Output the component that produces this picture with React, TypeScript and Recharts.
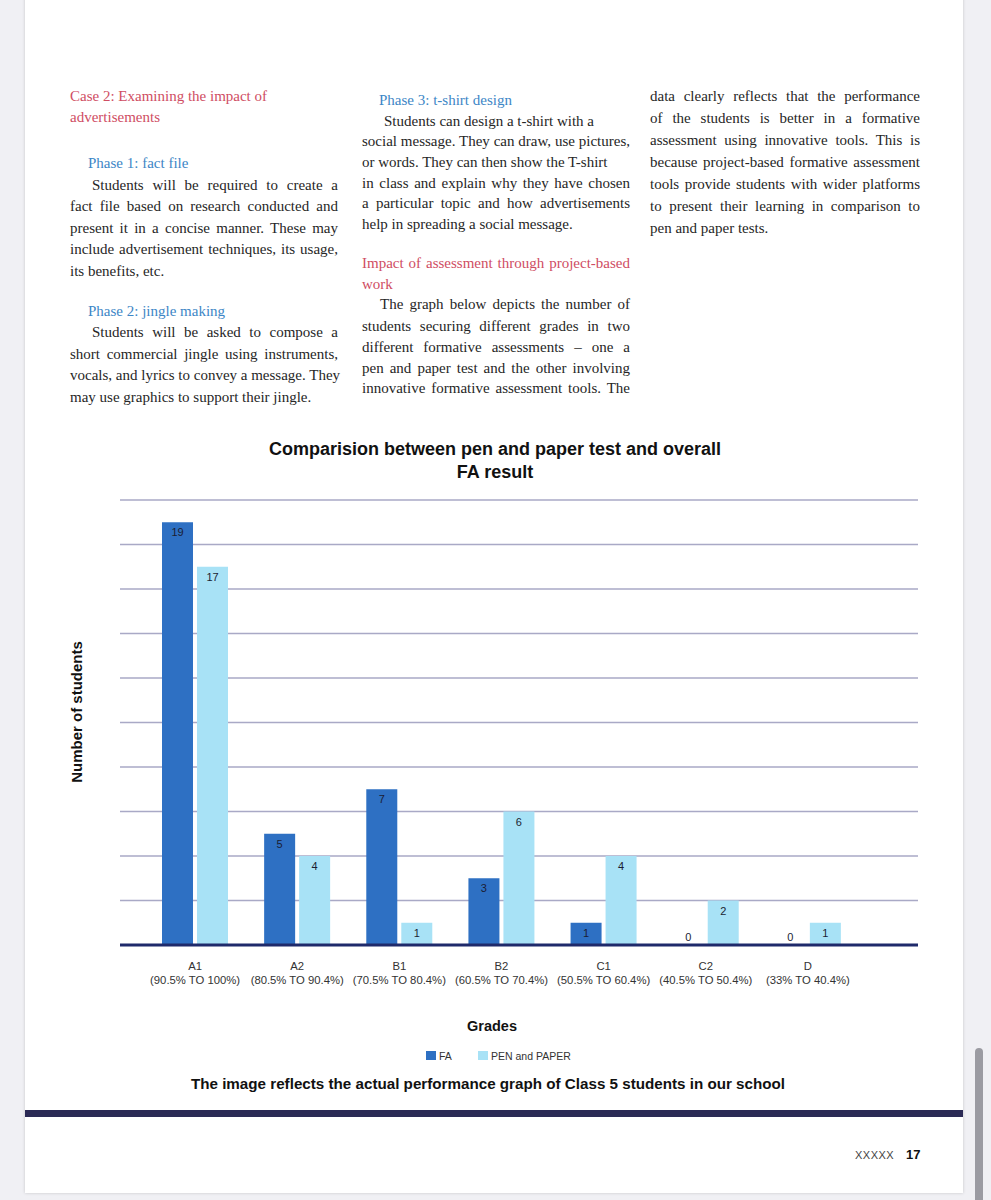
import React from "react";
import {
  BarChart,
  Bar,
  XAxis,
  YAxis,
  CartesianGrid,
  LabelList,
  Rectangle,
} from "recharts";

const grades = ["A1", "A2", "B1", "B2", "C1", "C2", "D"];
const gradeRanges = [
  "(90.5% TO 100%)",
  "(80.5% TO 90.4%)",
  "(70.5% TO 80.4%)",
  "(60.5% TO 70.4%)",
  "(50.5% TO 60.4%)",
  "(40.5% TO 50.4%)",
  "(33% TO 40.4%)",
];
const faValues = [19, 5, 7, 3, 1, 0, 0];
const penValues = [17, 4, 1, 6, 4, 2, 1];
const yTicks = [0, 2, 4, 6, 8, 10, 12, 14, 16, 18, 20];

const data = grades.map((g, i) => ({
  grade: g,
  range: gradeRanges[i],
  fa: faValues[i],
  pen: penValues[i],
}));

const SANS = "'Liberation Sans', Arial, Helvetica, sans-serif";
const SERIF = "'Liberation Serif', 'Times New Roman', serif";
const RED = "#cf4d63";
const BLUE = "#3d86c6";
const FA_COLOR = "#2e70c3";
const PEN_COLOR = "#a8e2f6";

const GradeTick = (props: any) => {
  const { x, y, payload } = props;
  const i = grades.indexOf(payload.value);
  return (
    <g>
      <text x={x} y={y + 25} textAnchor="middle" fontSize={11.3} fill="#333" fontFamily={SANS}>
        {payload.value}
      </text>
      <text x={x} y={y + 39} textAnchor="middle" fontSize={11.3} fill="#333" fontFamily={SANS}>
        {gradeRanges[i]}
      </text>
    </g>
  );
};

// zero bars get a 1px min size so their label is drawn, but no rect
const BarShape = (props: any) => {
  if (Number(props.height) < 2) return <g />;
  return <Rectangle {...props} />;
};

const renderValue = (props: any) => {
  const { x, y, width, height, value } = props;
  const v = Number(value);
  const h = Number(height) || 0;
  const cy = v === 0 || h < 2 ? Number(y) + h - 8 : Number(y) + Math.min(10, h / 2);
  return (
    <text
      x={Number(x) + Number(width) / 2}
      y={cy + 4}
      textAnchor="middle"
      fontSize={11}
      fill="#1b1d33"
      fontFamily={SANS}
    >
      {v}
    </text>
  );
};

type LineProps = {
  x: number;
  y: number;
  w: number;
  text: string;
  justify?: boolean;
  color?: string;
};

const TextLine = ({ x, y, w, text, justify, color }: LineProps) => (
  <div
    style={{
      position: "absolute",
      left: x,
      top: y - 11,
      width: w,
      height: 22,
      lineHeight: "22px",
      fontFamily: SERIF,
      fontSize: 15,
      color: color || "#262626",
      whiteSpace: "nowrap",
      textAlign: justify ? "justify" : "left",
      textAlignLast: justify ? "justify" : "left",
    }}
  >
    {text}
  </div>
);

const col1 = 70;
const col1R = 338;
const col2 = 362;
const col2R = 630;
const col3 = 650;
const col3R = 920;

const textLines: LineProps[] = [
  { x: col1, y: 96, w: 268, text: "Case 2: Examining the impact of", color: RED },
  { x: col1, y: 117, w: 268, text: "advertisements", color: RED },
  { x: 88, y: 163, w: 250, text: "Phase 1: fact file", color: BLUE },
  { x: 92, y: 185, w: col1R - 92, text: "Students will be required to create a", justify: true },
  { x: col1, y: 206, w: 268, text: "fact file based on research conducted and", justify: true },
  { x: col1, y: 228, w: 268, text: "present it in a concise manner. These may", justify: true },
  { x: col1, y: 249, w: 268, text: "include advertisement techniques, its usage,", justify: true },
  { x: col1, y: 271, w: 268, text: "its benefits, etc." },
  { x: 88, y: 311, w: 250, text: "Phase 2: jingle making", color: BLUE },
  { x: 92, y: 332, w: col1R - 92, text: "Students will be asked to compose a", justify: true },
  { x: col1, y: 354, w: 268, text: "short commercial jingle using instruments,", justify: true },
  { x: col1, y: 375, w: 268, text: "vocals, and lyrics to convey a message. They", justify: true },
  { x: col1, y: 397, w: 268, text: "may use graphics to support their jingle." },

  { x: 379, y: 100, w: 250, text: "Phase 3: t-shirt design", color: BLUE },
  { x: 384, y: 121, w: 240, text: "Students can design a t-shirt with a" },
  { x: col2, y: 141, w: 268, text: "social message. They can draw, use pictures,", justify: true },
  { x: col2, y: 162, w: 268, text: "or words. They can then show the T-shirt" },
  { x: col2, y: 183, w: 268, text: "in class and explain why they have chosen", justify: true },
  { x: col2, y: 203, w: 268, text: "a particular topic and how advertisements", justify: true },
  { x: col2, y: 224, w: 268, text: "help in spreading a social message." },
  { x: col2, y: 263, w: 268, text: "Impact of assessment through project-based", color: RED, justify: true },
  { x: col2, y: 284, w: 268, text: "work", color: RED },
  { x: 380, y: 304, w: col2R - 380, text: "The graph below depicts the number of", justify: true },
  { x: col2, y: 326, w: 268, text: "students securing different grades in two", justify: true },
  { x: col2, y: 347, w: 268, text: "different formative assessments \u2013 one a", justify: true },
  { x: col2, y: 368, w: 268, text: "pen and paper test and the other involving", justify: true },
  { x: col2, y: 388, w: 268, text: "innovative formative assessment tools. The", justify: true },

  { x: col3, y: 96, w: col3R - col3, text: "data clearly reflects that the performance", justify: true },
  { x: col3, y: 118, w: col3R - col3, text: "of the students is better in a formative", justify: true },
  { x: col3, y: 140, w: col3R - col3, text: "assessment using innovative tools. This is", justify: true },
  { x: col3, y: 162, w: col3R - col3, text: "because project-based formative assessment", justify: true },
  { x: col3, y: 184, w: col3R - col3, text: "tools provide students with wider platforms", justify: true },
  { x: col3, y: 206, w: col3R - col3, text: "to present their learning in comparison to", justify: true },
  { x: col3, y: 228, w: col3R - col3, text: "pen and paper tests." },
];

const abs = (left: number, top: number, extra: React.CSSProperties = {}): React.CSSProperties => ({
  position: "absolute",
  left,
  top,
  ...extra,
});

export default function App() {
  return (
    <div
      style={{
        position: "absolute",
        left: 0,
        top: 0,
        width: 991,
        height: 1200,
        background: "#f0f0f4",
        overflow: "hidden",
      }}
    >
      {/* page */}
      <div
        style={abs(25, -5, {
          width: 938,
          height: 1198,
          background: "#fff",
          boxShadow: "0 0 3px rgba(0,0,0,0.18)",
        })}
      />
      {/* scrollbar */}
      <div
        style={abs(975, 1048, {
          width: 8,
          height: 160,
          borderRadius: 4,
          background: "#9b9ba2",
        })}
      />

      {textLines.map((l, i) => (
        <TextLine key={i} {...l} />
      ))}

      {/* chart title */}
      <div
        style={abs(195, 438, {
          width: 600,
          textAlign: "center",
          fontFamily: SANS,
          fontWeight: 700,
          fontSize: 18,
          lineHeight: "23px",
          color: "#111",
        })}
      >
        Comparision between pen and paper test and overall
        <br />
        FA result
      </div>

      {/* y axis label */}
      <div
        style={abs(77 - 100, 712 - 10, {
          width: 200,
          height: 20,
          lineHeight: "20px",
          textAlign: "center",
          transform: "rotate(-90deg)",
          fontFamily: SANS,
          fontWeight: 700,
          fontSize: 15,
          color: "#111",
        })}
      >
        Number of students
      </div>

      <div style={abs(0, 420)}>
        <BarChart
          width={991}
          height={580}
          data={data}
          margin={{ top: 80, right: 73, left: 120, bottom: 0 }}
          barSize={31}
          barGap={4}
        >
          <CartesianGrid
            vertical={false}
            stroke="#a9a9c6"
            strokeWidth={1.5}
          />
          <YAxis hide domain={[0, 20]} ticks={yTicks} />
          <XAxis
            dataKey="grade"
            height={55}
            padding={{ left: 24, right: 59 }}
            tickLine={false}
            tickSize={0}
            tickMargin={0}
            axisLine={{ stroke: "#1f2a6b", strokeWidth: 3 }}
            tick={<GradeTick />}
            interval={0}
          />
          <Bar
            dataKey="fa"
            fill={FA_COLOR}
            minPointSize={1}
            shape={BarShape}
            isAnimationActive={false}
          >
            <LabelList dataKey="fa" content={renderValue} />
          </Bar>
          <Bar
            dataKey="pen"
            fill={PEN_COLOR}
            minPointSize={1}
            shape={BarShape}
            isAnimationActive={false}
          >
            <LabelList dataKey="pen" content={renderValue} />
          </Bar>
        </BarChart>
      </div>

      {/* x axis title */}
      <div
        style={abs(392, 1016, {
          width: 200,
          textAlign: "center",
          fontFamily: SANS,
          fontWeight: 700,
          fontSize: 14.5,
          lineHeight: "20px",
          color: "#111",
        })}
      >
        Grades
      </div>

      {/* legend */}
      <div style={abs(426, 1051, { width: 10, height: 9, background: FA_COLOR })} />
      <div style={abs(439, 1049, { fontFamily: SANS, fontSize: 10.5, lineHeight: "14px", color: "#333" })}>
        FA
      </div>
      <div style={abs(478, 1051, { width: 10, height: 9, background: PEN_COLOR })} />
      <div style={abs(491, 1049, { fontFamily: SANS, fontSize: 10.5, lineHeight: "14px", color: "#333" })}>
        PEN and PAPER
      </div>

      {/* caption */}
      <div
        style={abs(88, 1074, {
          width: 800,
          textAlign: "center",
          fontFamily: SANS,
          fontWeight: 700,
          fontSize: 15.2,
          lineHeight: "20px",
          color: "#111",
        })}
      >
        The image reflects the actual performance graph of Class 5 students in our school
      </div>

      {/* navy rule */}
      <div style={abs(25, 1110, { width: 938, height: 7, background: "#2b2a55" })} />

      {/* footer */}
      <div
        style={abs(855, 1148, {
          fontFamily: SANS,
          fontSize: 11,
          lineHeight: "14px",
          color: "#444",
          letterSpacing: 0.5,
        })}
      >
        XXXXX
      </div>
      <div
        style={abs(906, 1147, {
          fontFamily: SANS,
          fontWeight: 700,
          fontSize: 13,
          lineHeight: "16px",
          color: "#111",
        })}
      >
        17
      </div>
    </div>
  );
}
